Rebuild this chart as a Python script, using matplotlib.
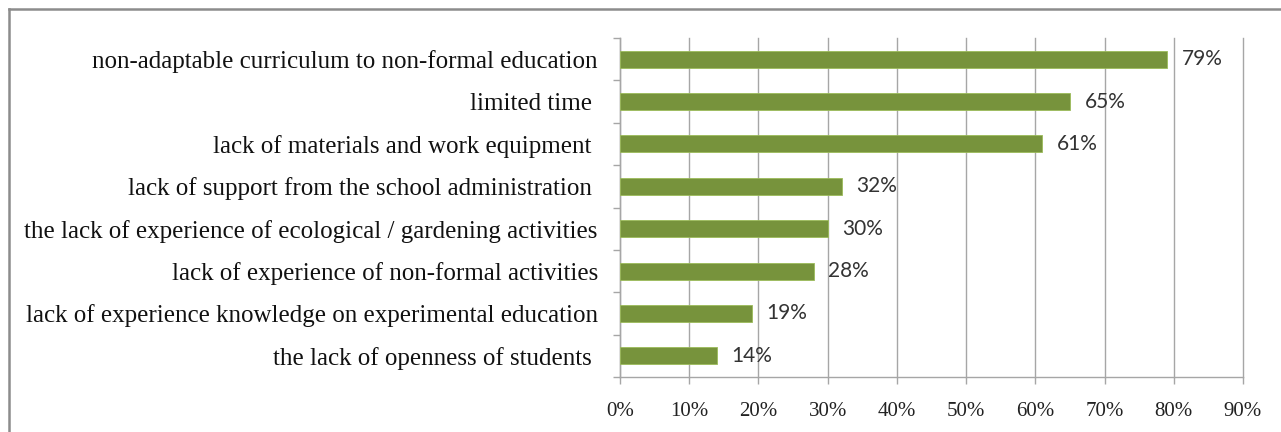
import matplotlib.pyplot as plt
from matplotlib.lines import Line2D
from matplotlib.ticker import FuncFormatter, MultipleLocator

categories = [
    "non-adaptable curriculum to non-formal education",
    "limited time ",
    "lack of materials and work equipment ",
    "lack of support from the school administration ",
    "the lack of experience of ecological / gardening activities",
    "lack of experience of non-formal activities",
    "lack of experience knowledge on experimental education",
    "the lack of openness of students ",
]
values = [79, 65, 61, 32, 30, 28, 19, 14]
value_labels = ["79%", "65%", "61%", "32%", "30%", "28%", "19%", "14%"]

BAR_COLOR = "#77933C"
GRID_COLOR = "#A6A6A6"
SERIF = ["Liberation Serif", "DejaVu Serif"]
SANS = ["Lato", "DejaVu Sans"]

fig = plt.figure(figsize=(12.81, 4.32), dpi=100)
ax = fig.add_axes([620 / 1281, 55 / 432, 623 / 1281, 339 / 432])

ypos = list(range(len(categories)))[::-1]
ax.barh(ypos, values, height=0.4, color=BAR_COLOR, edgecolor="#9BBB59",
        linewidth=0.6, zorder=3)

for y, v, lab in zip(ypos, values, value_labels):
    ax.text(v + 2.1, y, lab, va="center", ha="left", fontsize=15,
            family=SANS, color="#333333", zorder=4)

ax.set_xlim(0, 90)
ax.set_ylim(-0.5, len(categories) - 0.5)
ax.xaxis.set_major_locator(MultipleLocator(10))
ax.xaxis.set_major_formatter(FuncFormatter(lambda x, _: f"{x:.0f}%"))
ax.grid(axis="x", color=GRID_COLOR, linewidth=1.0, zorder=0)
for gl in ax.get_xgridlines():
    gl.set_clip_on(False)

# category labels sit between the boundary ticks
ax.set_yticks(ypos)
ax.set_yticklabels(categories, family=SERIF, fontsize=18, color="#111111")
ax.set_yticks([i - 0.5 for i in range(len(categories) + 1)], minor=True)
ax.tick_params(axis="y", which="major", length=0, pad=16)
ax.tick_params(axis="y", which="minor", length=5, color=GRID_COLOR, width=1.0)
ax.tick_params(axis="x", length=5, color=GRID_COLOR, width=1.0, pad=13,
               labelsize=15, labelcolor="#222222")
for t in ax.get_xticklabels():
    t.set_family(SERIF)

for side in ("top", "right"):
    ax.spines[side].set_visible(False)
for side in ("left", "bottom"):
    ax.spines[side].set_color(GRID_COLOR)
    ax.spines[side].set_linewidth(1.0)

# outer frame (top and left edges)
fig.add_artist(Line2D([9 / 1281, 1.0], [1 - 9 / 432, 1 - 9 / 432],
                      color="#8C8C8C", linewidth=1.8))
fig.add_artist(Line2D([9 / 1281, 9 / 1281], [0.0, 1 - 9 / 432],
                      color="#8C8C8C", linewidth=1.8))

fig.savefig("out.png", dpi=100, facecolor="white")
